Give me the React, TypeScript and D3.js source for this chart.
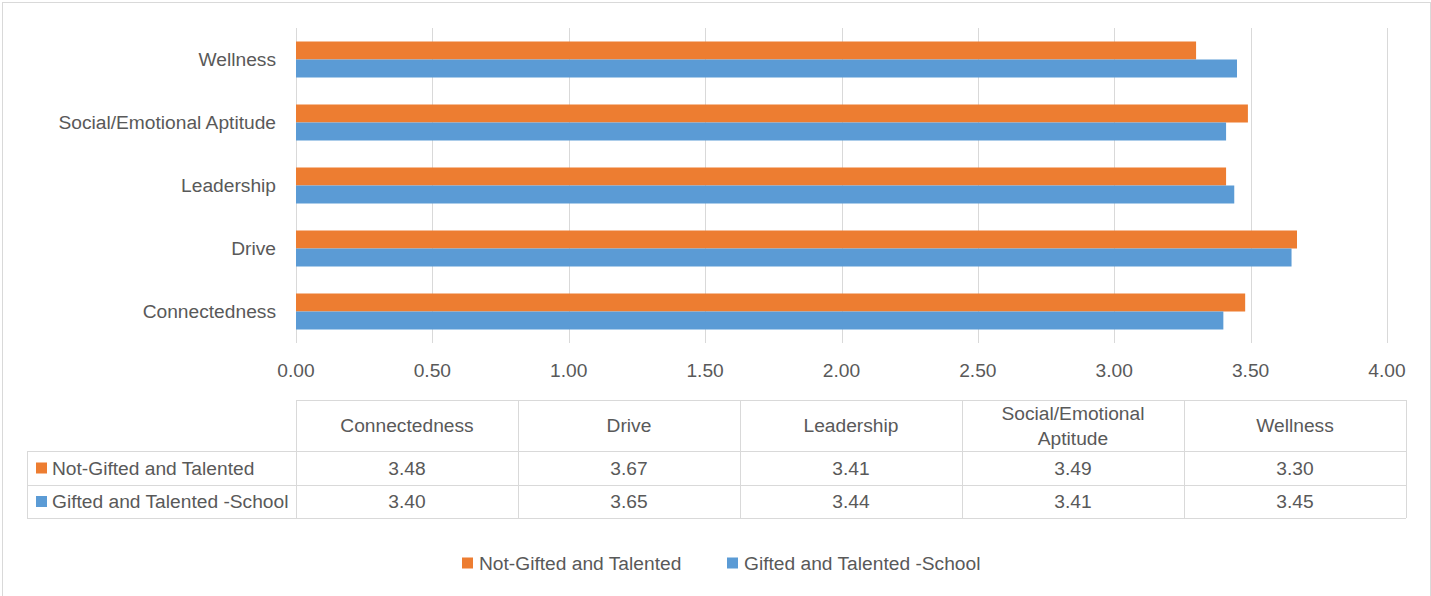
import React from "react";
import * as d3 from "d3";

const categories = ["Connectedness", "Drive", "Leadership", "Social/Emotional Aptitude", "Wellness"];
const tableHeaders = [["Connectedness"], ["Drive"], ["Leadership"], ["Social/Emotional", "Aptitude"], ["Wellness"]];
const seriesNames = ["Not-Gifted and Talented", "Gifted and Talented -School"];
const notGifted = [3.48, 3.67, 3.41, 3.49, 3.30];
const giftedSchool = [3.40, 3.65, 3.44, 3.41, 3.45];
const seriesColors = ["#ED7D31", "#5B9BD5"];
const xTicks = [0, 0.5, 1, 1.5, 2, 2.5, 3, 3.5, 4];

const W = 1431;
const H = 596;
const FONT = "'Liberation Sans', Arial, sans-serif";
const FS = 19.2;
const TXT = "#595959";
const GRID = "#D9D9D9";

export default function App() {
  const series = [notGifted, giftedSchool];
  const x = d3.scaleLinear().domain([0, 4]).range([296, 1387]);
  const yOrder = categories.slice().reverse();
  const y = d3.scaleBand<string>().domain(yOrder).range([28, 343]).paddingInner(0.4286).paddingOuter(0.2143);
  const ySub = d3.scaleBand<number>().domain([0, 1]).range([0, y.bandwidth()]);
  const fmt = d3.format(".2f");

  const colX = d3.scaleBand<string>().domain(categories).range([296, 1406]);
  const tableTop = 400, headerBottom = 451, row1Bottom = 485, row2Bottom = 518;
  const legendLeft = 27;
  const rowMid = [(headerBottom + row1Bottom) / 2, (row1Bottom + row2Bottom) / 2];

  const legendItems = [
    { x: 462, name: seriesNames[0], color: seriesColors[0] },
    { x: 727, name: seriesNames[1], color: seriesColors[1] },
  ];

  return (
    <svg width={W} height={H} style={{ position: "absolute", left: 0, top: 0, background: "#fff" }} fontFamily={FONT}>
      <rect x={0} y={0} width={W} height={H} fill="#fff" />
      <rect x={2.5} y={2.5} width={1428} height={H + 10} fill="none" stroke={GRID} strokeWidth={1} />
      {/* gridlines */}
      {xTicks.map((t) => (
        <line key={"g" + t} x1={Math.round(x(t)) + 0.5} x2={Math.round(x(t)) + 0.5} y1={28} y2={343} stroke={GRID} strokeWidth={1} />
      ))}
      {/* bars */}
      {categories.map((c, i) => (
        <g key={c} transform={`translate(0,${y(c)})`}>
          {series.map((s, si) => (
            <rect key={si} x={x(0)} y={ySub(si)} width={x(s[i]) - x(0)} height={ySub.bandwidth()} fill={seriesColors[si]} />
          ))}
        </g>
      ))}
      {/* category labels */}
      {categories.map((c) => (
        <text key={"l" + c} x={276} y={(y(c) as number) + y.bandwidth() / 2 - 0.5} textAnchor="end" dominantBaseline="central" fontSize={FS} fill={TXT}>
          {c}
        </text>
      ))}
      {/* tick labels */}
      {xTicks.map((t) => (
        <text key={"t" + t} x={x(t)} y={370.5} textAnchor="middle" dominantBaseline="central" fontSize={FS} fill={TXT}>
          {fmt(t)}
        </text>
      ))}
      {/* data table */}
      <g stroke={GRID} strokeWidth={1} fill="none">
        <line x1={296} x2={1406} y1={tableTop + 0.5} y2={tableTop + 0.5} />
        <line x1={legendLeft} x2={1406} y1={headerBottom + 0.5} y2={headerBottom + 0.5} />
        <line x1={legendLeft} x2={1406} y1={row1Bottom + 0.5} y2={row1Bottom + 0.5} />
        <line x1={legendLeft} x2={1406} y1={row2Bottom + 0.5} y2={row2Bottom + 0.5} />
        <line x1={legendLeft + 0.5} x2={legendLeft + 0.5} y1={headerBottom} y2={row2Bottom} />
        {categories.map((c) => (
          <line key={"v" + c} x1={(colX(c) as number) + 0.5} x2={(colX(c) as number) + 0.5} y1={tableTop} y2={row2Bottom} />
        ))}
        <line x1={1406.5} x2={1406.5} y1={tableTop} y2={row2Bottom} />
      </g>
      {categories.map((c, i) => {
        const cx = (colX(c) as number) + colX.bandwidth() / 2;
        const lines = tableHeaders[i];
        const mid = (tableTop + headerBottom) / 2;
        return (
          <g key={"h" + c}>
            {lines.map((ln, li) => (
              <text key={li} x={cx} y={mid + (li - (lines.length - 1) / 2) * 25} textAnchor="middle" dominantBaseline="central" fontSize={FS} fill={TXT}>
                {ln}
              </text>
            ))}
            {series.map((s, si) => (
              <text key={"v" + si} x={cx} y={rowMid[si]} textAnchor="middle" dominantBaseline="central" fontSize={FS} fill={TXT}>
                {fmt(s[i])}
              </text>
            ))}
          </g>
        );
      })}
      {seriesNames.map((n, si) => (
        <g key={"tl" + si}>
          <rect x={36} y={rowMid[si] - 5.5} width={11} height={11} fill={seriesColors[si]} />
          <text x={52} y={rowMid[si]} dominantBaseline="central" fontSize={FS} fill={TXT}>
            {n}
          </text>
        </g>
      ))}
      {/* legend */}
      {legendItems.map((it) => (
        <g key={"lg" + it.name}>
          <rect x={it.x} y={557.5} width={11} height={11} fill={it.color} />
          <text x={it.x + 17} y={563.5} dominantBaseline="central" fontSize={FS} fill={TXT}>
            {it.name}
          </text>
        </g>
      ))}
    </svg>
  );
}
